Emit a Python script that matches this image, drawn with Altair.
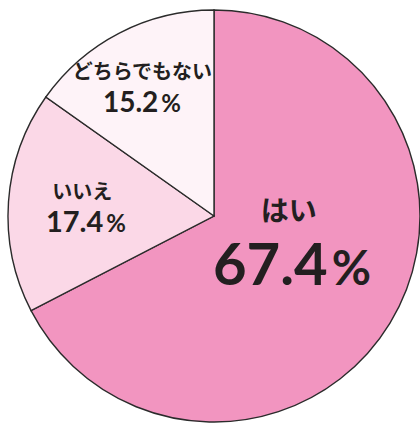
import altair as alt
import pandas as pd

categories = ["はい", "いいえ", "どちらでもない"]
values = [67.4, 17.4, 15.2]
number_labels = ["67.4", "17.4", "15.2"]

fills = ["#f295c0", "#fbd8e7", "#fef3f8"]
CX, CY, R = 214, 216, 206

df = pd.DataFrame({"cat": categories, "value": values, "num": number_labels})

base = alt.Chart(df).transform_window(idx="row_number()").encode(
    theta=alt.Theta("value:Q", stack=True),
    order=alt.Order("idx:Q"),
    x=alt.value(CX),
    y=alt.value(CY),
)

arcs = base.mark_arc(radius=R, stroke="#2b2b2b", strokeWidth=1.4).encode(
    color=alt.Color("cat:N", scale=alt.Scale(domain=categories, range=fills), legend=None)
)

JP = "Noto Sans CJK JP"
NUM = "Lato"
INK = "#231f20"


def label(cat, field, radius, dx, dy, size, align="center", baseline="middle", font=JP):
    return base.mark_text(
        align=align, baseline=baseline, dx=dx, dy=dy, fontSize=size,
        font=font, fontWeight="bold", color=INK,
    ).encode(
        radius=alt.value(radius),
        text=alt.condition(alt.datum.cat == cat, alt.Text(field), alt.value("")),
    )


def pct(cat, radius, dx, dy, size):
    return base.mark_text(
        align="left", baseline="alphabetic", dx=dx, dy=dy, fontSize=size,
        font=NUM, fontWeight="bold", color=INK,
    ).encode(
        radius=alt.value(radius),
        text=alt.condition(alt.datum.cat == cat, alt.value("%"), alt.value("")),
    )


layers = [
    arcs,
    # はい
    label("はい", "cat:N", 78, 8, -44, 28),
    label("はい", "num:N", 78, 47, 28.5, 58, align="right", baseline="alphabetic", font=NUM),
    pct("はい", 78, 51, 28.5, 48),
    # いいえ
    label("いいえ", "cat:N", 131, -1, -14, 20),
    label("いいえ", "num:N", 131, 20, 25, 29, align="right", baseline="alphabetic", font=NUM),
    pct("いいえ", 131, 23, 25, 24),
    # どちらでもない
    label("どちらでもない", "cat:N", 145, -5, -14, 20),
    label("どちらでもない", "num:N", 145, 11, 25, 28, align="right", baseline="alphabetic", font=NUM),
    pct("どちらでもない", 145, 14, 25, 24),
]

chart = alt.layer(*layers).properties(
    width=420, height=426, autosize=alt.AutoSizeParams(type="none"), padding=0
).configure_view(stroke=None)

chart.save("out.html", embed_options={"renderer": "svg", "actions": False})
